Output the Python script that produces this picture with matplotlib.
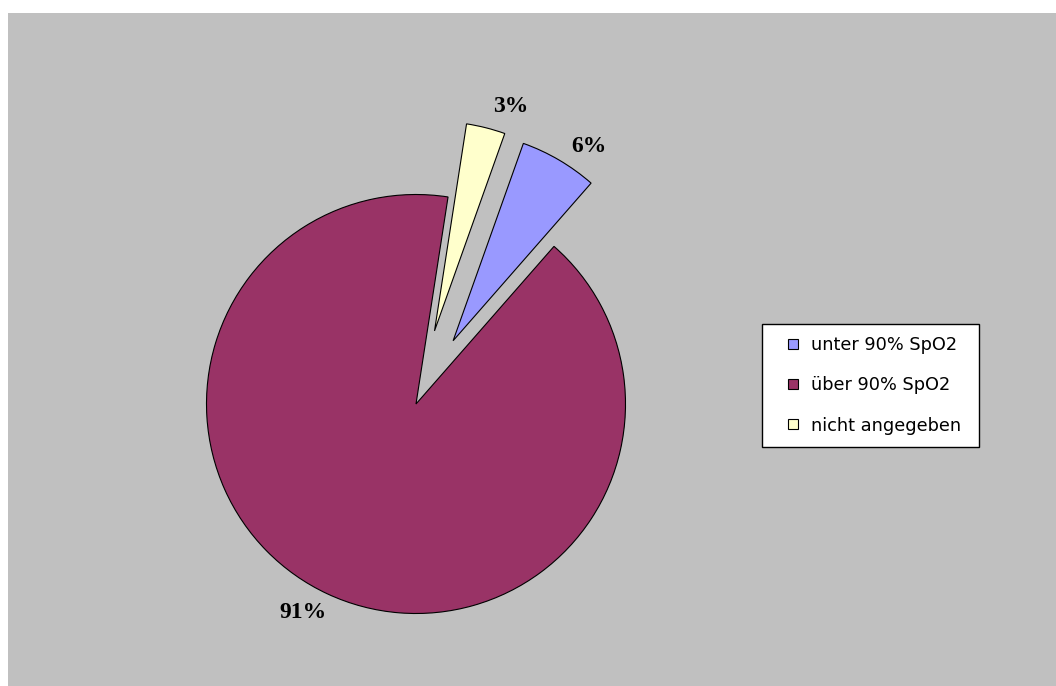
import math
import matplotlib.pyplot as plt
import matplotlib.patches as mpatches
from matplotlib.legend_handler import HandlerPatch

labels = ['unter 90% SpO2', 'über 90% SpO2', 'nicht angegeben']
values = [6, 91, 3]
colors = ['#9999FF', '#993366', '#FFFFCC']
explode_frac = [0.35, 0, 0.36]

W, H = 1056, 686
R = 209.5
CX, CY = 416, H - 404
fig = plt.figure(figsize=(W / 100, H / 100), dpi=100)
fig.patch.set_facecolor('white')

# gray plot area, data units = pixels
ax = fig.add_axes([8 / W, 0, (W - 8) / W, (H - 13) / H])
ax.set_facecolor('#C0C0C0')

# pie explode is in data units, so scale by radius
wedges, texts, autotexts = ax.pie(
    values, colors=colors, explode=[e * R for e in explode_frac],
    startangle=70.4, counterclock=False,
    center=(CX, CY), radius=R, frame=True,
    autopct=lambda p: f'{p:.0f}%', pctdistance=1.13,
    wedgeprops=dict(edgecolor='black', linewidth=0.8),
    textprops=dict(family='Liberation Serif', fontweight='bold',
                   fontsize=17, color='black'))

# excel puts the labels a few degrees further clockwise
rot = math.radians(-3.5)
for t in autotexts:
    x, y = t.get_position()
    dx, dy = x - CX, y - CY
    t.set_position((CX + dx * math.cos(rot) - dy * math.sin(rot),
                    CY + dx * math.sin(rot) + dy * math.cos(rot)))

ax.set_xlim(8, W)
ax.set_ylim(0, H - 13)
ax.set_xticks([])
ax.set_yticks([])
for s in ax.spines.values():
    s.set_visible(False)


def square(legend, orig_handle, xdescent, ydescent, width, height, fontsize):
    s = 0.56 * fontsize
    return mpatches.Rectangle((-xdescent + width - s, -ydescent + (height - s) / 2), s, s)


leg = ax.legend(wedges, labels, loc='upper left',
                bbox_to_anchor=(762 / W, 1 - 446 / H, 217 / W, 122 / H),
                bbox_transform=fig.transFigure, mode='expand', borderaxespad=0,
                prop=dict(family='DejaVu Sans', size=12.8),
                handler_map={mpatches.Wedge: HandlerPatch(patch_func=square)},
                handlelength=1.36, handleheight=0.56, handletextpad=0.73,
                labelspacing=1.25, borderpad=0.68,
                fancybox=False, shadow=False, framealpha=1)
leg.get_frame().set_edgecolor('black')
leg.get_frame().set_linewidth(1.0)

fig.savefig('out.png', dpi=100)
